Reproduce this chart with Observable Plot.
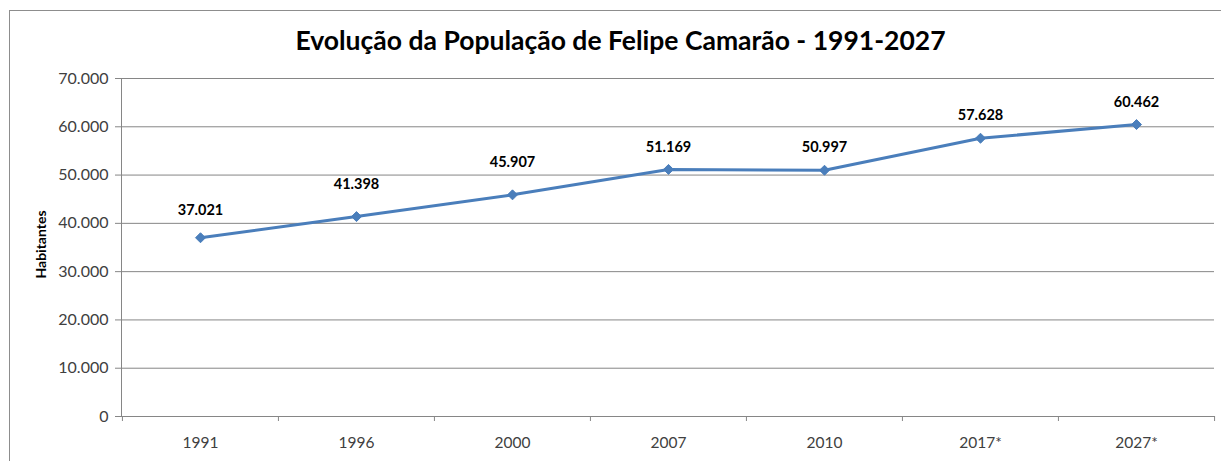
<!DOCTYPE html>
<html><head><meta charset="utf-8">
<script src="https://cdn.jsdelivr.net/npm/d3@7"></script>
<script src="https://cdn.jsdelivr.net/npm/@observablehq/plot@0.6"></script>
<style>
html,body{margin:0;padding:0;background:#fff;overflow:hidden;}
#wrap{position:relative;width:1221px;height:461px;overflow:hidden;}
#frame{position:absolute;left:9px;top:10px;width:1300px;height:600px;border:1.5px solid #8d8d8d;}
#title{position:absolute;left:0;width:1241px;top:24px;text-align:center;font-family:Lato, sans-serif;font-weight:bold;font-size:26.5px;color:#000;white-space:nowrap;}
#chart{position:absolute;left:0;top:0;}
</style></head><body>
<div id="wrap"><div id="frame"></div><div id="title"></div><div id="chart"></div></div>
<script>
const titleText = "Evolução da População de Felipe Camarão - 1991-2027";
const yLabel = "Habitantes";
const years = ["1991", "1996", "2000", "2007", "2010", "2017*", "2027*"];
const population = [37021, 41398, 45907, 51169, 50997, 57628, 60462];
const yTicks = [0, 10000, 20000, 30000, 40000, 50000, 60000, 70000];

const data = years.map((y, i) => ({year: y, pop: population[i], i}));
const locale = d3.formatLocale({decimal: ",", thousands: ".", grouping: [3], currency: ["R$", ""]});
const fmt = locale.format(",d");

document.getElementById("title").textContent = titleText;

const W = 1221, H = 461, mL = 121, mR = 7, mT = 78, mB = 45;
const step = (W - mL - mR) / years.length;
const gray = "#868686";
const labelStyle = {x: "year", y: "pop", text: d => fmt(d.pop), fontWeight: "bold", fontSize: 14.5, fill: "#000"};

const chart = Plot.plot({
  width: W, height: H,
  marginLeft: mL, marginRight: mR, marginTop: mT, marginBottom: mB,
  style: {fontFamily: "Lato, sans-serif", fontSize: "15px", color: "#404040", background: "transparent", overflow: "visible"},
  x: {type: "point", domain: years, padding: 0.5, align: 0.5},
  y: {domain: [0, 70000]},
  marks: [
    Plot.gridY(yTicks, {stroke: gray, strokeOpacity: 1}),
    Plot.frame({anchor: "left", stroke: gray}),
    Plot.frame({anchor: "bottom", stroke: gray}),
    Plot.axisY(yTicks, {tickFormat: fmt, tickSize: 6, tickPadding: 7, stroke: gray, label: null, fontSize: 16, fill: "#404040"}),
    Plot.axisX(years, {tickSize: 0, tickPadding: 20, label: null, fontSize: 15.5, fill: "#404040"}),
    Plot.axisX(years, {tickSize: 5, tickFormat: () => "", label: null, stroke: gray, dx: -step / 2}),
    Plot.axisX([years[years.length - 1]], {tickSize: 5, tickFormat: () => "", label: null, stroke: gray, dx: step / 2}),
    Plot.line(data, {x: "year", y: "pop", stroke: "#4a7ebb", strokeWidth: 3}),
    Plot.dot(data, {x: "year", y: "pop", symbol: "diamond2", r: 4.5, fill: "#4a7ebb", stroke: "#4a7ebb", strokeWidth: 1}),
    Plot.text(data, {...labelStyle, filter: d => d.i === 0, dy: -27}),
    Plot.text(data, {...labelStyle, filter: d => d.i === 1 || d.i === 2, dy: -32}),
    Plot.text(data, {...labelStyle, filter: d => d.i > 2, dy: -22.5}),
    Plot.text([yLabel], {frameAnchor: "left", textAnchor: "middle", dx: -80, dy: -3, rotate: -90, fontWeight: "bold", fontSize: 14, fill: "#000"})
  ]
});
document.getElementById("chart").appendChild(chart);
</script>
</body></html>
